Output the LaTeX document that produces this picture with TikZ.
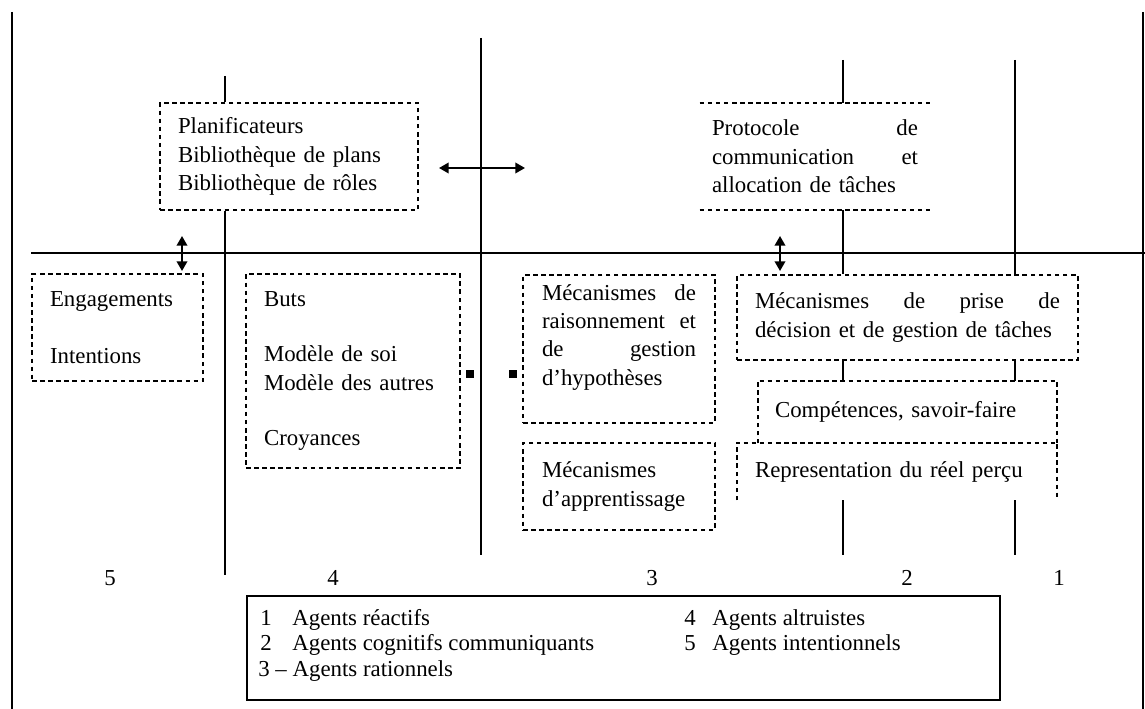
\documentclass[tikz,border=0pt]{standalone}
\usepackage{fontspec}
\setmainfont{Liberation Serif}
\usetikzlibrary{positioning,arrows.meta}
\tikzset{
  axe/.style={line width=1.1pt},
  pointille/.style={line width=1.1pt,dash pattern=on 2.6pt off 2pt},
  boite/.style={pointille,draw,rectangle,align=left,inner ysep=0pt},
  boitenue/.style={rectangle,align=left,inner ysep=0pt},
  flechedbl/.style={line width=1.1pt,{Triangle[length=5.5pt,width=6pt]}-{Triangle[length=5.5pt,width=6pt]}},
  carre/.style={fill=black,inner sep=0pt,minimum size=0.15cm},
  numero/.style={inner sep=0pt},
  legtxt/.style={anchor=base west,inner sep=0pt}
}

\begin{document}
\begin{tikzpicture}[x=0.02cm,y=-0.02cm,font=\fontsize{13}{16.2}\selectfont]
  \useasboundingbox (0,0) rectangle (1145,709);

  \coordinate (cA) at (225,0);
  \coordinate (cB) at (481,0);
  \coordinate (cC) at (843,0);
  \coordinate (cD) at (1015,0);

  \node[boite,minimum width=5.16cm,minimum height=2.14cm,inner xsep=0.36cm,text width=4.44cm] (plan) at (289,156.5) {Planificateurs\\Bibliothèque de plans\\Bibliothèque de rôles};
  \node[boitenue,minimum width=4.6cm,minimum height=2.14cm,inner xsep=0.24cm,text width=4.12cm] (proto) at (815,156.5) {Protocole\hfill de\\communication\hfill et\\allocation de tâches};
  \node[boite,minimum width=3.42cm,minimum height=2.14cm,inner xsep=0.36cm,text width=2.7cm] (engag) at (117.5,327.5) {Engagements\\[16pt]Intentions};
  \node[boite,minimum width=4.28cm,minimum height=3.88cm,inner xsep=0.36cm,text width=3.56cm] (buts) at (353,371) {Buts\\[15pt]Modèle de soi\\Modèle des autres\\[15pt]Croyances};
  \node[boite,minimum width=3.84cm,minimum height=2.96cm,inner xsep=0.38cm,text width=3.08cm] (raison) at (619,349) {Mécanismes\hfill de\\raisonnement\hfill et\\de\hfill gestion\\d'hypothèses\\\mbox{}};
  \node[boite,minimum width=3.84cm,minimum height=1.74cm,inner xsep=0.38cm,text width=3.08cm] (appren) at (619,486.5) {Mécanismes\\d'apprentissage};
  \node[boite,minimum width=6.82cm,minimum height=1.7cm,inner xsep=0.36cm,text width=6.1cm] (decis) at (907.5,317.5) {Mécanismes\hfill de\hfill prise\hfill de\\décision et de gestion de tâches};
  \node[boitenue,minimum width=5.98cm,minimum height=1.24cm,inner xsep=0.34cm,text width=5.3cm] (compet) at (907.5,412) {Compétences, savoir-faire};
  \node[boitenue,minimum width=6.4cm,minimum height=1.14cm,inner xsep=0.36cm,text width=5.68cm] (repres) at (897,471.5) {Representation du réel perçu};

  \draw[pointille] (proto.north west) -- (proto.north east) (proto.south west) -- (proto.south east);
  \draw[pointille] (compet.south west) |- (compet.north east) -- (compet.south east);
  \draw[pointille] (repres.south west) |- (repres.north east) -- (repres.south east);

  % cadre et axes
  \draw[axe] (12,12) -- (12,709);
  \draw[axe] (1143,12) -- (1143,709);
  \draw[axe] (31,253) -- (1145,253);
  \draw[axe] (cA |- 0,76) -- (plan.north -| cA);
  \draw[axe] (plan.south -| cA) -- (cA |- 0,575);
  \draw[axe] (cB |- 0,38) -- (cB |- 0,555);
  \draw[axe] (cC |- 0,60) -- (proto.north -| cC);
  \draw[axe] (proto.south -| cC) -- (decis.north -| cC);
  \draw[axe] (decis.south -| cC) -- (compet.north -| cC);
  \draw[axe] (repres.south -| cC) -- (cC |- 0,555);
  \draw[axe] (cD |- 0,60) -- (decis.north -| cD);
  \draw[axe] (decis.south -| cD) -- (compet.north -| cD);
  \draw[axe] (repres.south -| cD) -- (cD |- 0,555);

  \coordinate (fh1) at (439,168);
  \coordinate (fh2) at (525,168);
  \coordinate (fv1) at (182,236);
  \coordinate (fv2) at (182,271);
  \coordinate (fv3) at (780,236);
  \coordinate (fv4) at (780,271);
  \draw[flechedbl] (fh1) -- (fh2);
  \draw[flechedbl] (fv1) -- (fv2);
  \draw[flechedbl] (fv3) -- (fv4);

  \node[carre] (carreg) at (470,374) {};
  \node[carre] (carred) at (513,374) {};

  \node[numero] (n5) at (110,578) {5};
  \node[numero] (n4) at (333,578) {4};
  \node[numero] (n3) at (652,578) {3};
  \node[numero] (n2) at (907,578) {2};
  \node[numero] (n1) at (1059,578) {1};

  \node[draw,line width=1.4pt,minimum width=15.06cm,minimum height=2.08cm,inner sep=0pt] (legende) at (623.5,648) {};
  \node[legtxt] (l1n) at (260,625) {1};
  \node[legtxt] (l1t) at (292,625) {Agents réactifs};
  \node[legtxt] (l2n) at (260,650) {2};
  \node[legtxt] (l2t) at (292,650) {Agents cognitifs communiquants};
  \node[legtxt] (l3t) at (258,676) {3 – Agents rationnels};
  \node[legtxt] (l4n) at (684,625) {4};
  \node[legtxt] (l4t) at (712,625) {Agents altruistes};
  \node[legtxt] (l5n) at (684,650) {5};
  \node[legtxt] (l5t) at (712,650) {Agents intentionnels};
\end{tikzpicture}
\end{document}
